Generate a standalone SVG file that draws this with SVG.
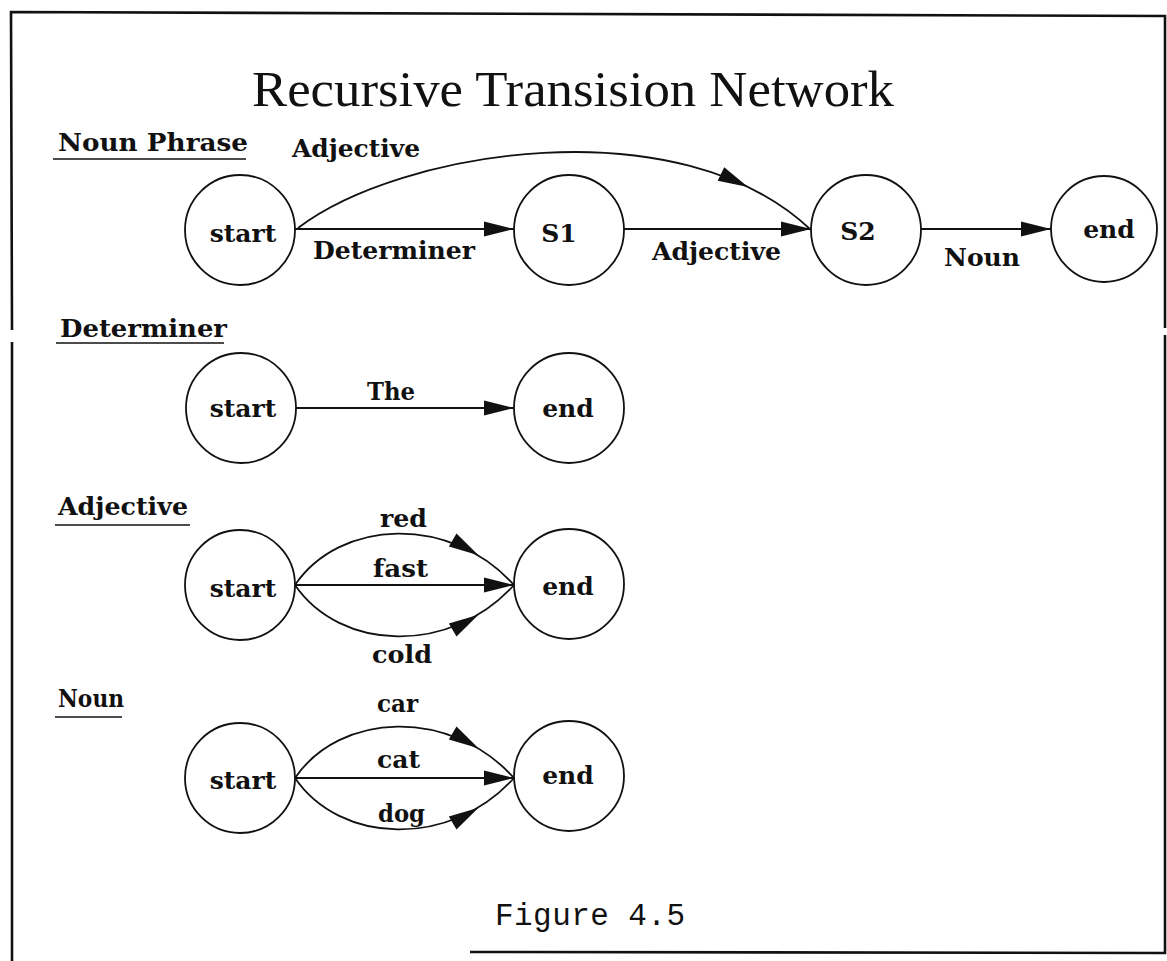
<svg xmlns="http://www.w3.org/2000/svg" xmlns:xlink="http://www.w3.org/1999/xlink" width="1167" height="961" viewBox="0 0 1167 961">
  <style>
    .frame { fill: none; stroke: #111; stroke-width: 2.6; }
    .state { fill: #fff; stroke: #111; stroke-width: 1.8; }
    .edge { fill: none; stroke: #111; stroke-width: 1.8; }
    .rule { stroke: #111; stroke-width: 1.6; }
    .lbl { font-family: "DejaVu Serif", "Liberation Serif", serif; font-weight: bold; font-size: 25px; fill: #111; }
    .name { font-family: "DejaVu Serif", "Liberation Serif", serif; font-weight: bold; font-size: 25px; fill: #111; text-anchor: middle; }
    .title { font-family: "Liberation Serif", "DejaVu Serif", serif; font-size: 50px; fill: #111; }
    .caption { font-family: "Liberation Mono", "DejaVu Sans Mono", monospace; font-size: 31px; fill: #111; }
  </style>
  <defs>
    <marker id="arr" markerUnits="userSpaceOnUse" markerWidth="32" markerHeight="16" refX="30" refY="8" orient="auto">
      <path d="M0,0.5 L30,8 L0,15.5 z" fill="#111"/>
    </marker>
    <path id="head" d="M0,0 L-30,-7.5 L-30,7.5 z" fill="#111"/>
  </defs>
  <rect width="1167" height="961" fill="#fff"/>

  <!-- page frame -->
  <g id="frame">
    <path class="frame" d="M12,330 L11,12 L1165,16 L1165,328"/>
    <path class="frame" d="M12,342 L12,961"/>
    <path class="frame" d="M1165,335 L1165,953 L470,952"/>
  </g>

  <text class="title" x="252" y="106" textLength="642" lengthAdjust="spacingAndGlyphs">Recursive Transision Network</text>

  <!-- section headings -->
  <g id="headings">
    <text class="lbl" x="58" y="151" textLength="190" lengthAdjust="spacingAndGlyphs">Noun Phrase</text>
    <line class="rule" x1="53" y1="159" x2="246" y2="159"/>
    <text class="lbl" x="60" y="337" textLength="167" lengthAdjust="spacingAndGlyphs">Determiner</text>
    <line class="rule" x1="56" y1="343" x2="224" y2="343"/>
    <text class="lbl" x="58" y="515" textLength="130" lengthAdjust="spacingAndGlyphs">Adjective</text>
    <line class="rule" x1="55" y1="525" x2="190" y2="525"/>
    <text class="lbl" x="58" y="707" textLength="66" lengthAdjust="spacingAndGlyphs">Noun</text>
    <line class="rule" x1="55" y1="717" x2="122" y2="717"/>
  </g>

  <!-- connectors -->
  <g id="connectors">
    <!-- noun phrase network -->
    <path class="edge" d="M298,228 C400,150 680,105 811,230"/>
    <use xlink:href="#head" href="#head" transform="translate(748,187) rotate(25.7)"/>
    <line class="edge" x1="295" y1="229" x2="514" y2="229" marker-end="url(#arr)"/>
    <line class="edge" x1="624" y1="229" x2="811" y2="229" marker-end="url(#arr)"/>
    <line class="edge" x1="921" y1="229" x2="1051" y2="229" marker-end="url(#arr)"/>

    <!-- determiner network -->
    <line class="edge" x1="296" y1="408" x2="514" y2="408" marker-end="url(#arr)"/>

    <!-- adjective network -->
    <path class="edge" d="M295,585 C340,519 450,514 514,585"/>
    <use xlink:href="#head" href="#head" transform="translate(478.5,555.3) rotate(30.6)"/>
    <line class="edge" x1="295" y1="585" x2="514" y2="585" marker-end="url(#arr)"/>
    <path class="edge" d="M295,585 C340,651 450,656 514,585"/>
    <use xlink:href="#head" href="#head" transform="translate(478.5,614.7) rotate(-30.6)"/>

    <!-- noun network -->
    <path class="edge" d="M295,778 C340,712 450,707 514,778"/>
    <use xlink:href="#head" href="#head" transform="translate(478.5,748.3) rotate(30.6)"/>
    <line class="edge" x1="295" y1="778" x2="514" y2="778" marker-end="url(#arr)"/>
    <path class="edge" d="M295,778 C340,844 450,849 514,778"/>
    <use xlink:href="#head" href="#head" transform="translate(478.5,807.7) rotate(-30.6)"/>
  </g>

  <!-- arc labels -->
  <g id="arc-labels">
    <text class="lbl" x="292" y="157" textLength="128" lengthAdjust="spacingAndGlyphs">Adjective</text>
    <text class="lbl" x="313" y="259" textLength="162" lengthAdjust="spacingAndGlyphs">Determiner</text>
    <text class="lbl" x="652" y="260" textLength="129" lengthAdjust="spacingAndGlyphs">Adjective</text>
    <text class="lbl" x="944" y="266" textLength="76" lengthAdjust="spacingAndGlyphs">Noun</text>
    <text class="lbl" x="367" y="400" textLength="48" lengthAdjust="spacingAndGlyphs">The</text>
    <text class="lbl" x="380" y="527" textLength="47" lengthAdjust="spacingAndGlyphs">red</text>
    <text class="lbl" x="373" y="577" textLength="55" lengthAdjust="spacingAndGlyphs">fast</text>
    <text class="lbl" x="372" y="663" textLength="60" lengthAdjust="spacingAndGlyphs">cold</text>
    <text class="lbl" x="377" y="712" textLength="41" lengthAdjust="spacingAndGlyphs">car</text>
    <text class="lbl" x="377" y="768" textLength="43" lengthAdjust="spacingAndGlyphs">cat</text>
    <text class="lbl" x="378" y="822" textLength="47" lengthAdjust="spacingAndGlyphs">dog</text>
  </g>

  <!-- noun phrase states -->
  <g id="np-start"><circle class="state" cx="240" cy="230" r="55"/><text class="name" x="243" y="242">start</text></g>
  <g id="np-s1"><circle class="state" cx="569" cy="230" r="55"/><text class="name" x="559" y="242">S1</text></g>
  <g id="np-s2"><circle class="state" cx="866" cy="230" r="55"/><text class="name" x="858" y="240">S2</text></g>
  <g id="np-end"><circle class="state" cx="1104" cy="229" r="53"/><text class="name" x="1109" y="238">end</text></g>

  <!-- determiner states -->
  <g id="det-start"><circle class="state" cx="241" cy="408" r="55"/><text class="name" x="243" y="417">start</text></g>
  <g id="det-end"><circle class="state" cx="569" cy="408" r="55"/><text class="name" x="568" y="417">end</text></g>

  <!-- adjective states -->
  <g id="adj-start"><circle class="state" cx="240" cy="585" r="55"/><text class="name" x="243" y="597">start</text></g>
  <g id="adj-end"><circle class="state" cx="569" cy="584" r="55"/><text class="name" x="568" y="595">end</text></g>

  <!-- noun states -->
  <g id="noun-start"><circle class="state" cx="240" cy="778" r="55"/><text class="name" x="243" y="789">start</text></g>
  <g id="noun-end"><circle class="state" cx="569" cy="776" r="55"/><text class="name" x="568" y="784">end</text></g>

  <text class="caption" x="495" y="925" textLength="190">Figure 4.5</text>
</svg>
